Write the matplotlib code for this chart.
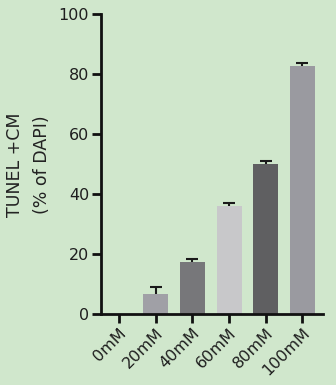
import matplotlib
matplotlib.use("Agg")
import matplotlib.pyplot as plt
import numpy as np

categories = ["0mM", "20mM", "40mM", "60mM", "80mM", "100mM"]
values = [0.0, 6.7, 17.1, 35.9, 50.1, 82.7]
errors = [0.0, 2.1, 1.2, 1.1, 0.9, 1.1]
bar_colors = ["#a0a0a6", "#a0a0a6", "#77777a", "#c8c8ca", "#5f5f61", "#9a9aa0"]
yticks = [0, 20, 40, 60, 80, 100]

bg = "#d0e7cc"
fig = plt.figure(figsize=(3.36, 3.85), dpi=100, facecolor=bg)
ax = fig.add_axes([0.3006, 0.1852, 0.6607, 0.7784])
ax.set_facecolor(bg)

x = np.arange(len(categories))
ax.bar(x, values, width=0.68, color=bar_colors, edgecolor="none", zorder=2)
for xi, v, e in zip(x, values, errors):
    if e > 0:
        _, caps, _ = ax.errorbar(xi, v, yerr=[[0], [e]], fmt="none", ecolor="#1a1a1a",
                                 elinewidth=1.5, capsize=4, capthick=1.5, zorder=3)
        if len(caps) > 1:
            caps[0].set_visible(False)

ax.set_xlim(-0.49, 5.56)
ax.set_ylim(0, 100)
ax.set_yticks(yticks)
ax.set_xticks(x)
ax.set_xticklabels(categories, rotation=45, ha="right", rotation_mode="anchor")

for s in ["top", "right"]:
    ax.spines[s].set_visible(False)
for s in ["left", "bottom"]:
    ax.spines[s].set_linewidth(2)
    ax.spines[s].set_color("#111111")

ax.tick_params(axis="both", direction="out", length=6.5, width=2, color="#111111",
               labelsize=11.5, labelcolor="#1e1e1e", pad=2)

fig.text(0.045, 0.573, "TUNEL +CM", rotation=90, ha="center", va="center",
         fontsize=12.5, color="#222222")
fig.text(0.125, 0.573, "(% of DAPI)", rotation=90, ha="center", va="center",
         fontsize=12.5, color="#222222")

fig.savefig("out.png", dpi=100, facecolor=bg)
